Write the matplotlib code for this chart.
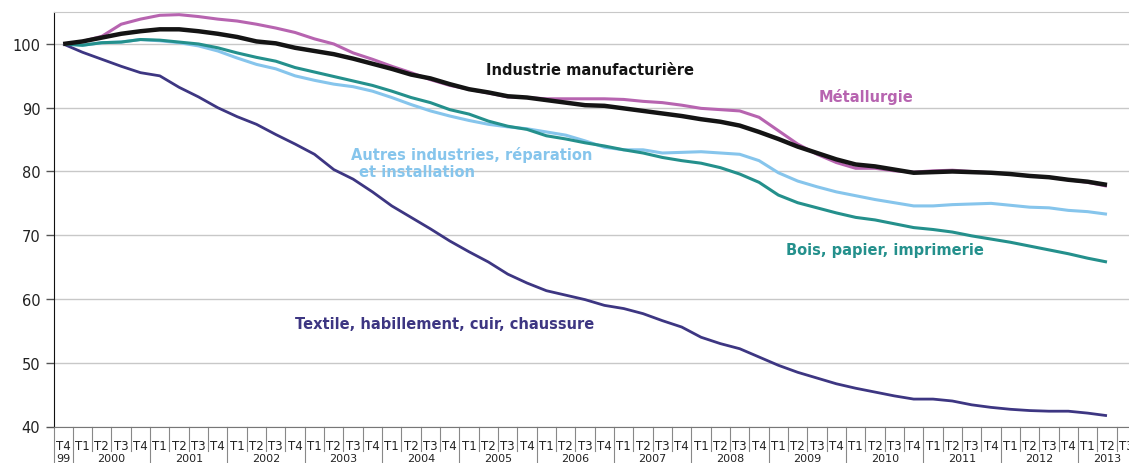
import matplotlib
matplotlib.use("Agg")
import matplotlib.pyplot as plt

# quarterly index, base 100 = T4 1999, last point T2 2013
quarters = ["T4"] + ["T1", "T2", "T3", "T4"] * 13 + ["T1", "T2", "T3"]
years = ["99"] + [str(y) for y in range(2000, 2014)]

industrie = [100, 100.4, 101.0, 101.6, 102.0, 102.3, 102.3, 102.0, 101.6, 101.1,
             100.4, 100.1, 99.4, 98.9, 98.4, 97.7, 96.9, 96.1, 95.2, 94.6,
             93.7, 92.9, 92.4, 91.8, 91.6, 91.2, 90.8, 90.4, 90.3, 89.9,
             89.5, 89.1, 88.7, 88.2, 87.8, 87.2, 86.2, 85.1, 83.9, 82.9,
             81.9, 81.1, 80.8, 80.3, 79.8, 79.9, 80.0, 79.9, 79.8, 79.6,
             79.3, 79.1, 78.7, 78.4, 77.9]
metallurgie = [100, 100.4, 101.2, 103.1, 103.9, 104.5, 104.6, 104.3, 103.9, 103.6,
               103.1, 102.5, 101.8, 100.8, 100.0, 98.6, 97.6, 96.5, 95.5, 94.4,
               93.5, 92.9, 92.3, 91.7, 91.6, 91.4, 91.4, 91.4, 91.4, 91.3,
               91.0, 90.8, 90.4, 89.9, 89.7, 89.5, 88.5, 86.4, 84.3, 82.7,
               81.4, 80.5, 80.5, 80.1, 79.9, 80.1, 80.2, 80.0, 79.8, 79.6,
               79.3, 79.1, 78.7, 78.3, 77.7]
bois = [100, 99.8, 100.2, 100.3, 100.7, 100.6, 100.3, 100.0, 99.4, 98.6,
        97.9, 97.3, 96.3, 95.6, 94.9, 94.2, 93.5, 92.6, 91.6, 90.8,
        89.7, 89.0, 87.9, 87.1, 86.6, 85.6, 85.1, 84.5, 84.0, 83.4,
        82.9, 82.2, 81.7, 81.3, 80.6, 79.6, 78.3, 76.3, 75.1, 74.3,
        73.5, 72.8, 72.4, 71.8, 71.2, 70.9, 70.5, 69.9, 69.4, 68.9,
        68.3, 67.7, 67.1, 66.4, 65.8]
autres = [100, 99.8, 100.2, 100.3, 100.7, 100.5, 100.2, 99.7, 98.9, 97.8,
          96.8, 96.1, 95.0, 94.3, 93.7, 93.3, 92.6, 91.6, 90.5, 89.5,
          88.7, 88.0, 87.4, 87.0, 86.7, 86.2, 85.7, 84.8, 83.8, 83.4,
          83.4, 82.9, 83.0, 83.1, 82.9, 82.7, 81.7, 79.8, 78.5, 77.6,
          76.8, 76.2, 75.6, 75.1, 74.6, 74.6, 74.8, 74.9, 75.0, 74.7,
          74.4, 74.3, 73.9, 73.7, 73.3]
textile = [100, 98.7, 97.6, 96.5, 95.5, 95.0, 93.2, 91.7, 90.0, 88.6,
           87.4, 85.8, 84.3, 82.7, 80.3, 78.8, 76.8, 74.6, 72.8, 71.0,
           69.1, 67.4, 65.8, 63.9, 62.5, 61.3, 60.6, 59.9, 59.0, 58.5,
           57.7, 56.6, 55.6, 54.0, 53.0, 52.2, 50.9, 49.6, 48.5, 47.6,
           46.7, 46.0, 45.4, 44.8, 44.3, 44.3, 44.0, 43.4, 43.0, 42.7,
           42.5, 42.4, 42.4, 42.1, 41.7]

c_ind = "#141414"
c_met = "#b764b0"
c_bois = "#24908c"
c_aut = "#86c5ec"
c_tex = "#3d3682"

fig = plt.figure(figsize=(11.29, 4.64), dpi=100)
ax = fig.add_axes([53.5 / 1129, 1 - 427.5 / 464, (1129 - 53.5) / 1129, (427.5 - 13.1) / 464])

x = list(range(len(industrie)))
ax.plot(x, textile, color=c_tex, lw=2.0, solid_capstyle="butt")
ax.plot(x, autres, color=c_aut, lw=2.2, solid_capstyle="butt")
ax.plot(x, bois, color=c_bois, lw=2.2, solid_capstyle="butt")
ax.plot(x, metallurgie, color=c_met, lw=2.2, solid_capstyle="butt")
ax.plot(x, industrie, color=c_ind, lw=3.2, solid_capstyle="butt")

ax.set_xlim(-0.5, -0.5 + (1129 - 53.5) / 19.33)
ax.set_ylim(40, 105)
ax.set_yticks(range(40, 101, 10))
ax.yaxis.grid(True, color="#c8c8c8", lw=1)
ax.set_axisbelow(True)
ax.set_xticks([])
ax.tick_params(axis="y", length=6, width=1, color="#555555", pad=3.5, labelsize=10.5, labelcolor="#222222")
ax.spines["right"].set_visible(False)
ax.spines["top"].set_color("#c8c8c8")
ax.spines["left"].set_color("#111111")
ax.spines["bottom"].set_color("#777777")

lab = dict(fontsize=10.5, fontweight="bold", family="DejaVu Sans", va="center", ha="left")
ax.text(21.9, 96.0, "Industrie manufacturière", color=c_ind, **lab)
ax.text(39.1, 91.9, "Métallurgie", color=c_met, **lab)
ax.text(14.9, 82.7, "Autres industries, réparation", color=c_aut, **lab)
ax.text(15.3, 80.0, "et installation", color=c_aut, **lab)
ax.text(37.4, 67.8, "Bois, papier, imprimerie", color=c_bois, **lab)
ax.text(12.0, 56.1, "Textile, habillement, cuir, chaussure", color=c_tex, **lab)

# two-level category axis: quarters then years
tr = ax.get_xaxis_transform()
for i, q in enumerate(quarters):
    ax.text(i, -0.045, q, transform=tr, ha="center", va="center", fontsize=8.5,
            color="#222222", clip_on=False)
    year_sep = (q == "T1") or i == 0
    ax.plot([i - 0.5, i - 0.5], [0, -0.09 if year_sep else -0.06], transform=tr,
            color="#888888", lw=0.8, clip_on=False)

year_pos = [0] + [2.5 + 4 * k for k in range(13)] + [54]
for pos, yr in zip(year_pos, years):
    ax.text(pos, -0.0885, yr, transform=tr, ha="center", va="bottom", fontsize=8,
            color="#222222", clip_on=False)

fig.savefig("out.png", dpi=100)
